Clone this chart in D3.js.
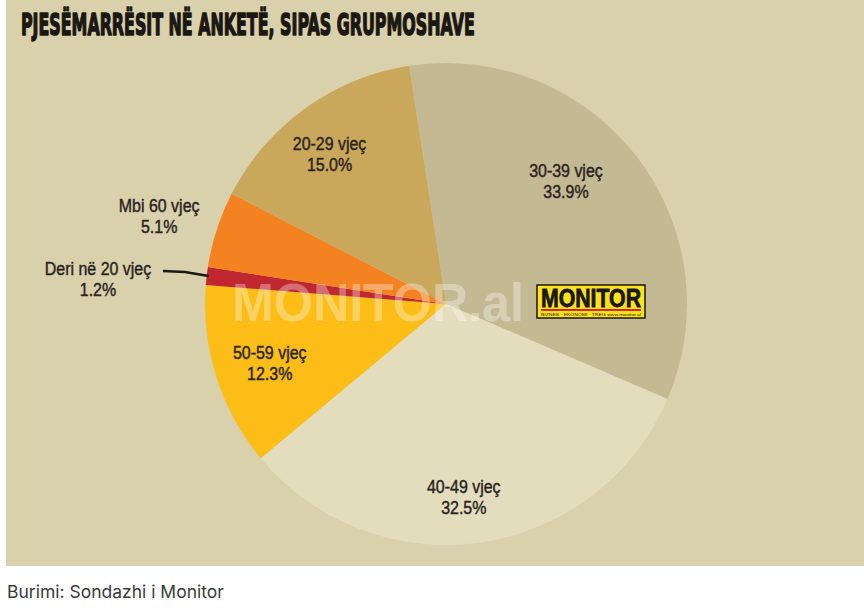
<!DOCTYPE html>
<html>
<head>
<meta charset="utf-8">
<script src="https://cdn.jsdelivr.net/npm/d3@7"></script>
<style>
  body { margin: 0; background: #fff; }
  svg { display: block; }
</style>
</head>
<body>
<svg id="chart" width="864" height="608"></svg>
<script>
// data, clockwise from the top
var groups = ["30-39 vjeç", "40-49 vjeç", "50-59 vjeç", "Deri në 20 vjeç", "Mbi 60 vjeç", "20-29 vjeç"];
var shares = [33.9, 32.5, 12.3, 1.2, 5.1, 15.0];
var colors = ["#c3ba94", "#e4ddbd", "#fdbd17", "#c1272e", "#f58220", "#c9a75b"];
var title = "PJESËMARRËSIT NË ANKETË, SIPAS GRUPMOSHAVE";
var source = "Burimi: Sondazhi i Monitor";

// layout for labels: [radius, angle shift in degrees]
var labelPlace = [[172, -8], [194, 3], [186, -1], [0, 0], [300, -1], [190, -2]];

var svg = d3.select("#chart");
var cx = 446, cy = 304, R = 241;

svg.append("rect")
    .attr("x", 6).attr("y", 0)
    .attr("width", 858).attr("height", 566)
    .attr("fill", "#d9d0ac");

// title squeezed to the width of the original heavy condensed face
var titleG = svg.append("g");
var titleText = titleG.append("text")
    .attr("x", 0).attr("y", 0)
    .style("font-family", "'DejaVu Sans', sans-serif")
    .style("font-weight", "bold")
    .style("font-size", "30px")
    .attr("fill", "#1b1712")
    .attr("stroke", "#1b1712")
    .attr("stroke-width", 1.6)
    .attr("stroke-linejoin", "round")
    .text(title);
var tw = titleText.node().getComputedTextLength();
titleG.attr("transform", "translate(21,35) scale(" + (454 / tw) + ",1)");

var data = groups.map(function(g, i){
    return {name: g, value: shares[i], color: colors[i], place: labelPlace[i]};
});

var start = -8.8 * Math.PI / 180;
var pie = d3.pie()
    .sort(null)
    .value(function(d){ return d.value; })
    .startAngle(start)
    .endAngle(start + 2 * Math.PI);

var arc = d3.arc().innerRadius(0).outerRadius(R);

var g = svg.append("g").attr("transform", "translate(" + cx + "," + cy + ")");
var arcs = pie(data);

g.selectAll("path")
    .data(arcs)
    .enter()
    .append("path")
    .attr("d", arc)
    .attr("fill", function(d){ return d.data.color; });

// watermark
svg.append("text")
    .attr("x", 232).attr("y", 321)
    .attr("textLength", 292)
    .attr("lengthAdjust", "spacingAndGlyphs")
    .style("font-family", "'Liberation Sans', Arial, sans-serif")
    .style("font-weight", "bold")
    .style("font-size", "53px")
    .attr("fill", "#ffffff")
    .attr("fill-opacity", 0.33)
    .text("MONITOR.al");

// logo
var logo = svg.append("g").attr("transform", "translate(537,285)");
logo.append("rect")
    .attr("width", 108).attr("height", 33)
    .attr("fill", "#fde21a")
    .attr("stroke", "#1b1712").attr("stroke-width", 1.5);
logo.append("text")
    .attr("x", 4).attr("y", 22)
    .attr("textLength", 100)
    .attr("lengthAdjust", "spacingAndGlyphs")
    .style("font-family", "'Liberation Sans', Arial, sans-serif")
    .style("font-weight", "bold")
    .style("font-size", "25px")
    .attr("fill", "#1b1712")
    .attr("stroke", "#1b1712")
    .attr("stroke-width", 0.8)
    .text("MONITOR");
logo.append("rect")
    .attr("x", 4).attr("y", 24)
    .attr("width", 100).attr("height", 2)
    .attr("fill", "#d9262e");
logo.append("text")
    .attr("x", 4).attr("y", 31)
    .attr("textLength", 100)
    .attr("lengthAdjust", "spacingAndGlyphs")
    .style("font-family", "'Liberation Sans', Arial, sans-serif")
    .style("font-size", "4px")
    .attr("fill", "#1b1712")
    .text("BIZNES  ·  EKONOMI  ·  TREG        www.monitor.al");

// labels
function pos(d){
    var r = d.data.place[0];
    var a = (d.startAngle + d.endAngle) / 2 + d.data.place[1] * Math.PI / 180;
    return [r * Math.sin(a), -r * Math.cos(a)];
}

arcs.forEach(function(d){
    var x, y;
    if (d.data.name === "Deri në 20 vjeç") {
        x = 98 - cx; y = 279 - cy;
        var a = (d.startAngle + d.endAngle) / 2;
        var ex = R * Math.sin(a), ey = -R * Math.cos(a);
        g.append("path")
            .attr("d", d3.line()([[163 - cx, 271 - cy], [185 - cx, 272 - cy], [ex + 2, ey]]))
            .attr("fill", "none")
            .attr("stroke", "#1b1712")
            .attr("stroke-width", 2.5);
    } else {
        var p = pos(d);
        x = p[0]; y = p[1];
    }
    var t = g.append("g")
        .attr("transform", "translate(" + x + "," + y + ") scale(0.84,1)")
        .append("text")
        .attr("text-anchor", "middle")
        .style("font-family", "'Liberation Sans', Arial, sans-serif")
        .style("font-size", "19px")
        .attr("fill", "#2a241e")
        .attr("stroke", "#2a241e")
        .attr("stroke-width", 0.45);
    t.append("tspan").attr("x", 0).attr("y", -4).text(d.data.name);
    t.append("tspan").attr("x", 0).attr("y", 17).text(d3.format(".1f")(d.data.value) + "%");
});

svg.append("text")
    .attr("x", 7).attr("y", 598)
    .style("font-family", "Inter, 'Noto Sans', sans-serif")
    .style("font-size", "17.5px")
    .attr("fill", "#3a3a3a")
    .text(source);
</script>
</body>
</html>
